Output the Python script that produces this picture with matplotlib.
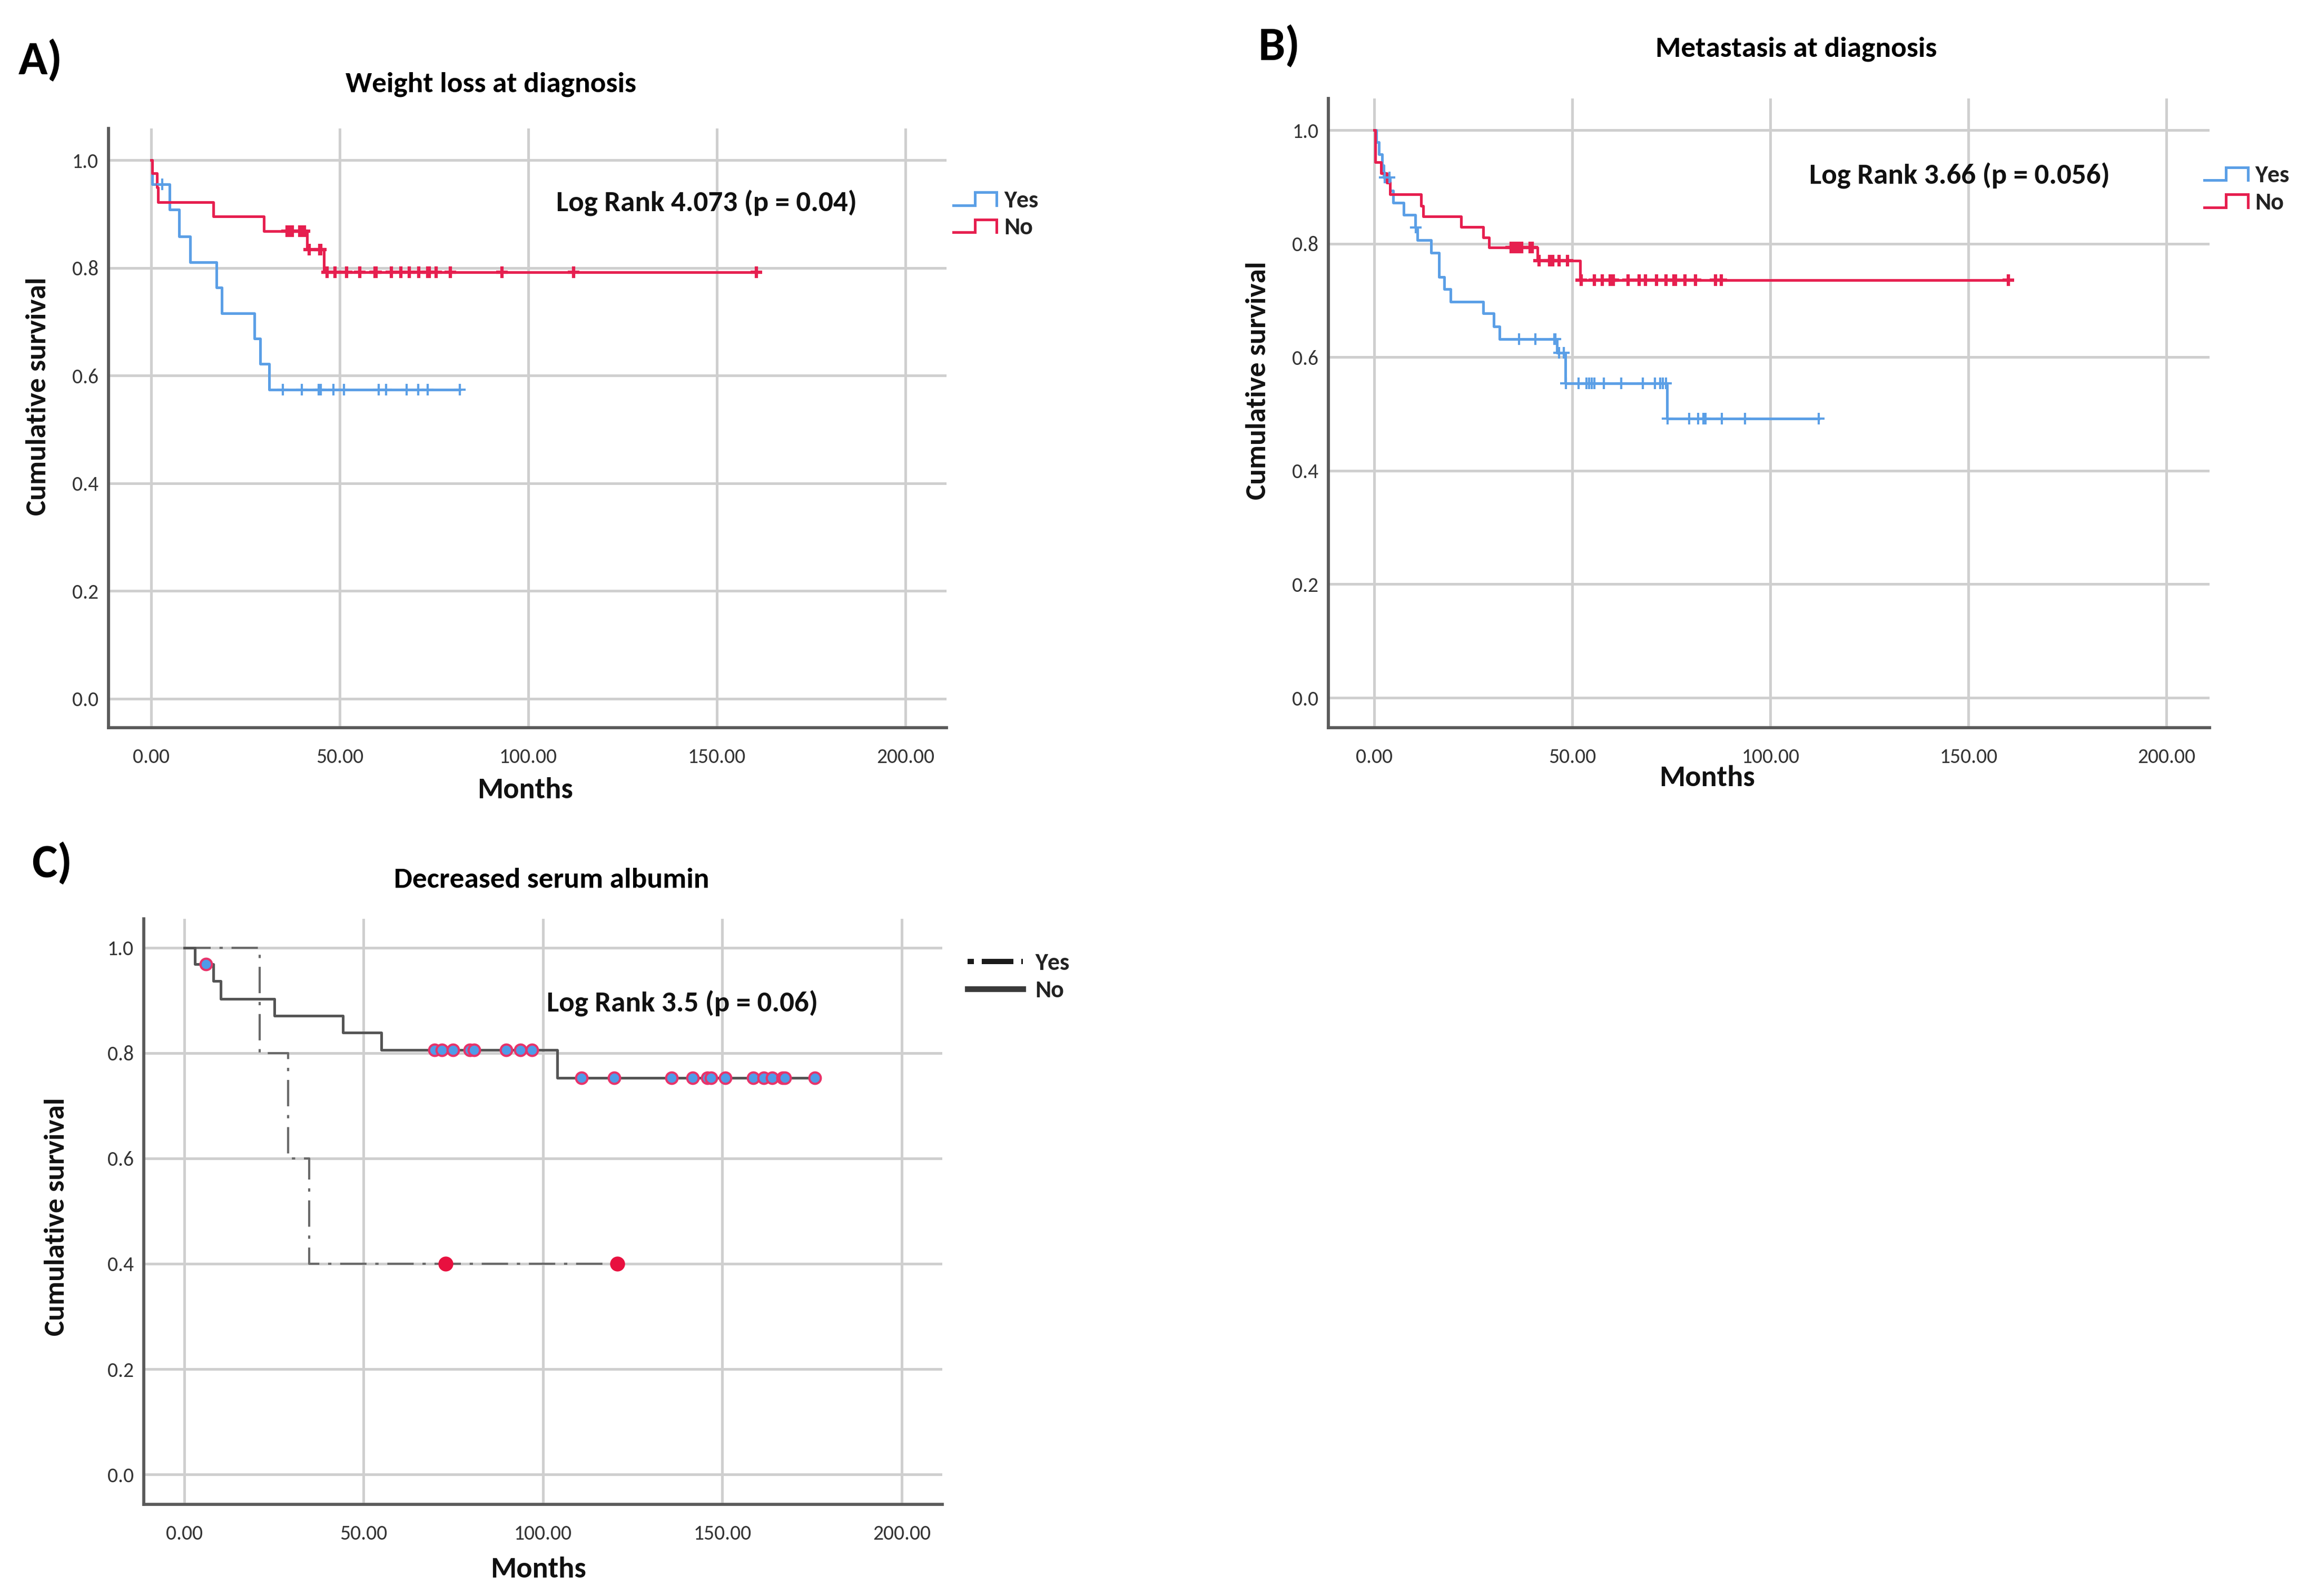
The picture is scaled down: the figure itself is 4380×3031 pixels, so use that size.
import numpy as np
import matplotlib
matplotlib.use('Agg')
import matplotlib.pyplot as plt
from matplotlib import font_manager
from matplotlib.legend_handler import HandlerBase
from matplotlib.lines import Line2D

avail = {f.name for f in font_manager.fontManager.ttflist}


def pick(*names):
    for n in names:
        if n in avail:
            return n
    return 'DejaVu Sans'


BOLD_FONT = pick('Carlito', 'Lato', 'Open Sans', 'DejaVu Sans')
TICK_FONT = pick('Carlito', 'Liberation Sans Narrow', 'Roboto Condensed', 'Lato', 'DejaVu Sans')

# ---------------- data ----------------
x_ticks = [0, 50, 100, 150, 200]
x_tick_labels = ['0.00', '50.00', '100.00', '150.00', '200.00']
y_ticks = [0.0, 0.2, 0.4, 0.6, 0.8, 1.0]
y_tick_labels = ['0.0', '0.2', '0.4', '0.6', '0.8', '1.0']
legend_labels = ['Yes', 'No']

# Panel A: Weight loss at diagnosis
a_yes_event_t = [0.3, 4.9, 7.4, 10.4, 17.4, 18.8, 27.4, 29.0, 31.3]
a_yes_event_s = [0.955, 0.908, 0.859, 0.811, 0.764, 0.716, 0.669, 0.622, 0.574]
a_yes_cens = [2.9, 34.9, 39.9, 44.4, 45.0, 48.4, 51.2, 60.3, 62.3, 67.8, 70.8, 73.4, 81.8]
a_no_event_t = [0.3, 1.5, 1.9, 16.5, 29.9, 41.3, 45.9]
a_no_event_s = [0.976, 0.949, 0.922, 0.896, 0.868, 0.834, 0.792]
a_no_cens = [36.0, 36.9, 37.5, 39.4, 40.0, 40.6, 41.9, 44.7, 45.0, 46.6, 48.8, 51.9,
             55.3, 59.4, 59.7, 63.7, 66.2, 68.4, 70.9, 73.4, 73.7, 75.6, 79.3, 93.0,
             112.0, 160.5]

# Panel B: Metastasis at diagnosis
b_yes_event_t = [0.5, 1.2, 1.9, 2.4, 4.0, 4.8, 7.4, 10.3, 10.9, 14.3, 16.3, 17.6,
                 19.2, 27.5, 30.1, 31.6, 46.1, 48.2, 73.9]
b_yes_event_s = [0.979, 0.958, 0.938, 0.917, 0.894, 0.872, 0.851, 0.829, 0.806, 0.784,
                 0.741, 0.720, 0.698, 0.677, 0.654, 0.632, 0.608, 0.554, 0.492]
b_yes_cens = [2.6, 3.8, 10.5, 36.5, 40.6, 45.4, 45.7, 46.7, 47.8, 48.4, 51.5, 53.5,
              54.2, 54.9, 55.6, 58.0, 62.4, 67.8, 70.9, 72.2, 72.9, 73.6, 74.1, 79.5,
              81.8, 83.1, 83.6, 87.8, 93.6, 112.2]
b_no_event_t = [0.2, 1.7, 3.2, 3.9, 11.8, 12.3, 21.9, 27.5, 29.0, 41.2, 52.0]
b_no_event_s = [0.944, 0.924, 0.908, 0.887, 0.867, 0.848, 0.830, 0.811, 0.793, 0.770, 0.736]
b_no_cens = [34.5, 35.2, 35.9, 36.5, 37.2, 39.3, 39.9, 41.6, 44.3, 44.7, 45.0, 46.7,
             48.8, 52.2, 55.6, 57.6, 59.6, 60.0, 60.3, 64.1, 66.8, 68.5, 71.2, 73.6,
             75.7, 76.0, 78.4, 81.1, 86.2, 87.6, 160.1]

# Panel C: Decreased serum albumin
c_yes_event_t = [21.0, 29.0, 34.9]
c_yes_event_s = [0.8, 0.6, 0.4]
c_yes_cens = [72.9, 120.8]
c_no_event_t = [3.0, 8.1, 10.1, 25.2, 44.2, 55.0, 104.0]
c_no_event_s = [0.969, 0.937, 0.903, 0.871, 0.839, 0.806, 0.753]
c_no_cens = [6.1, 69.8, 71.9, 74.9, 79.6, 80.8, 89.8, 93.7, 96.9, 110.8, 119.8, 135.8,
             141.7, 145.8, 146.8, 150.8, 158.6, 161.5, 163.9, 166.8, 167.4, 175.8]

# ---------------- styling ----------------
BLUE = '#5b9fe6'
RED = '#e61f4f'
GRID = '#cfcfcf'
SPINE = '#5a5a5a'
TICKC = '#333333'

fig = plt.figure(figsize=(14.6, 3031 / 300), dpi=300)
fig.patch.set_facecolor('white')


def km_curve(event_t, event_s, cens):
    t = np.concatenate([[0.0], np.asarray(event_t, float)])
    s = np.concatenate([[1.0], np.asarray(event_s, float)])
    end = max(max(cens), t[-1])
    t = np.append(t, end)
    s = np.append(s, s[-1])
    c = np.asarray(cens, float)
    idx = np.searchsorted(t[:-1], c, side='right') - 1
    return t, s, c, s[idx]


class StepHandler(HandlerBase):
    def create_artists(self, legend, orig_handle, xdescent, ydescent, width, height,
                       fontsize, trans):
        x0 = -xdescent
        lo = -ydescent + 0.12 * height
        hi = -ydescent + 0.88 * height
        xs = [x0, x0 + 0.5 * width, x0 + 0.5 * width, x0 + width, x0 + width]
        ys = [lo, lo, hi, hi, lo]
        ln = Line2D(xs, ys, color=orig_handle.get_color(),
                    lw=orig_handle.get_linewidth(), transform=trans,
                    solid_joinstyle='miter')
        return [ln]


def style_axes(ax, xlim, ylim):
    ax.set_xlim(*xlim)
    ax.set_ylim(*ylim)
    ax.set_xticks(x_ticks)
    ax.set_xticklabels(x_tick_labels)
    ax.set_yticks(y_ticks)
    ax.set_yticklabels(y_tick_labels)
    ax.grid(True, color=GRID, lw=1.2, zorder=0)
    ax.set_axisbelow(True)
    for sp in ['top', 'right']:
        ax.spines[sp].set_visible(False)
    for sp in ['left', 'bottom']:
        ax.spines[sp].set_color(SPINE)
        ax.spines[sp].set_linewidth(1.4)
    ax.tick_params(length=0, labelsize=9.5, labelcolor=TICKC)
    ax.tick_params(axis='x', pad=9)
    ax.tick_params(axis='y', pad=4.5)
    for lab in ax.get_xticklabels() + ax.get_yticklabels():
        lab.set_fontfamily(TICK_FONT)


def set_labels(ax, ylab_xy, xlab_xy):
    ax.set_ylabel('Cumulative survival', fontsize=13.3, fontweight='bold',
                  family=BOLD_FONT, color='#111111')
    ax.yaxis.set_label_coords(*ylab_xy)
    ax.yaxis.label.set_verticalalignment('center')
    ax.set_xlabel('Months', fontsize=13.5, fontweight='bold', family=BOLD_FONT,
                  color='#111111')
    ax.xaxis.set_label_coords(*xlab_xy)
    ax.xaxis.label.set_verticalalignment('center')


def color_panel(ax, yes, no, stat_text, stat_xy, legend_xy):
    handles = []
    for (et, es, cs), col, mew in ((yes, BLUE, 1.0), (no, RED, 1.5)):
        t, s, c, cy = km_curve(et, es, cs)
        h, = ax.step(t, s, where='post', color=col, lw=1.2, zorder=3)
        ax.plot(c, cy, ls='none', marker='+', ms=5.5, mew=mew, color=col, zorder=4)
        handles.append(h)
    ax.text(*stat_xy, stat_text, ha='center', va='center', fontsize=13.2,
            fontweight='bold', family=BOLD_FONT, color='#111111')
    fig.legend(handles, legend_labels, loc='center left', bbox_to_anchor=legend_xy,
               frameon=False, handlelength=1.8, handleheight=0.7,
               handletextpad=0.3, labelspacing=0.25, borderpad=0, borderaxespad=0,
               handler_map={Line2D: StepHandler()},
               prop={'family': BOLD_FONT, 'size': 11, 'weight': 'bold'},
               labelcolor='#222222')


# ---------------- Panel A ----------------
axA = fig.add_axes([0.0470, 0.5440, 0.3633, 0.3755])
style_axes(axA, (-11.3, 210.9), (-0.054, 1.059))
color_panel(axA, (a_yes_event_t, a_yes_event_s, a_yes_cens),
            (a_no_event_t, a_no_event_s, a_no_cens),
            'Log Rank 4.073 (p = 0.04)', (147.3, 0.92), (0.4132, 0.8659))
set_labels(axA, (-0.084, 0.553), (0.497, -0.104))
fig.text(0.0080, 0.9621, 'A)', fontsize=22, fontweight='bold', family=BOLD_FONT,
         ha='left', va='center')
fig.text(0.2128, 0.9472, 'Weight loss at diagnosis', fontsize=13.3, fontweight='bold',
         family=BOLD_FONT, ha='center', va='center')

# ---------------- Panel B ----------------
axB = fig.add_axes([0.5758, 0.5440, 0.3820, 0.3943])
style_axes(axB, (-11.6, 210.9), (-0.053, 1.056))
color_panel(axB, (b_yes_event_t, b_yes_event_s, b_yes_cens),
            (b_no_event_t, b_no_event_s, b_no_cens),
            'Log Rank 3.66 (p = 0.056)', (147.7, 0.92), (0.9555, 0.8816))
set_labels(axB, (-0.0795, 0.552), (0.43, -0.080))
fig.text(0.5454, 0.9710, 'B)', fontsize=22, fontweight='bold', family=BOLD_FONT,
         ha='left', va='center')
fig.text(0.7785, 0.9693, 'Metastasis at diagnosis', fontsize=13.3, fontweight='bold',
         family=BOLD_FONT, ha='center', va='center')

# ---------------- Panel C ----------------
axC = fig.add_axes([0.0623, 0.0574, 0.3461, 0.3669])
style_axes(axC, (-11.3, 211.3), (-0.057, 1.055))
t, s, c, cy = km_curve(c_yes_event_t, c_yes_event_s, c_yes_cens)
hY, = axC.step(t, s, where='post', color='#6a6a6a', lw=1.0, zorder=3,
               dashes=(12, 4, 1.5, 4))
axC.plot(c, cy, ls='none', marker='o', ms=6, mfc='#e8103f', mec='#e8103f', mew=0.8,
         zorder=5)
t, s, c, cy = km_curve(c_no_event_t, c_no_event_s, c_no_cens)
hN, = axC.step(t, s, where='post', color='#555555', lw=1.2, zorder=3)
axC.plot(c, cy, ls='none', marker='o', ms=5.2, mfc='#4f9be8', mec='#e8336a', mew=1.0,
         zorder=5)
axC.text(138.9, 0.894, 'Log Rank 3.5 (p = 0.06)', ha='center', va='center',
         fontsize=13.2, fontweight='bold', family=BOLD_FONT, color='#111111')
legY = Line2D([], [], color='#1a1a1a', lw=2.4, dashes=(1.2, 1.5, 6, 1.5))
legN = Line2D([], [], color='#3a3a3a', lw=2.6)
fig.legend([legY, legN], legend_labels, loc='center left', bbox_to_anchor=(0.4194, 0.3880),
           frameon=False, handlelength=2.3, handletextpad=0.5, labelspacing=0.25,
           borderpad=0, borderaxespad=0,
           prop={'family': BOLD_FONT, 'size': 11, 'weight': 'bold'}, labelcolor='#222222')
set_labels(axC, (-0.109, 0.491), (0.494, -0.111))
fig.text(0.0137, 0.4589, 'C)', fontsize=22, fontweight='bold', family=BOLD_FONT,
         ha='left', va='center')
fig.text(0.2390, 0.4484, 'Decreased serum albumin', fontsize=13.3, fontweight='bold',
         family=BOLD_FONT, ha='center', va='center')

fig.savefig('out.png', dpi=300, facecolor='white')
